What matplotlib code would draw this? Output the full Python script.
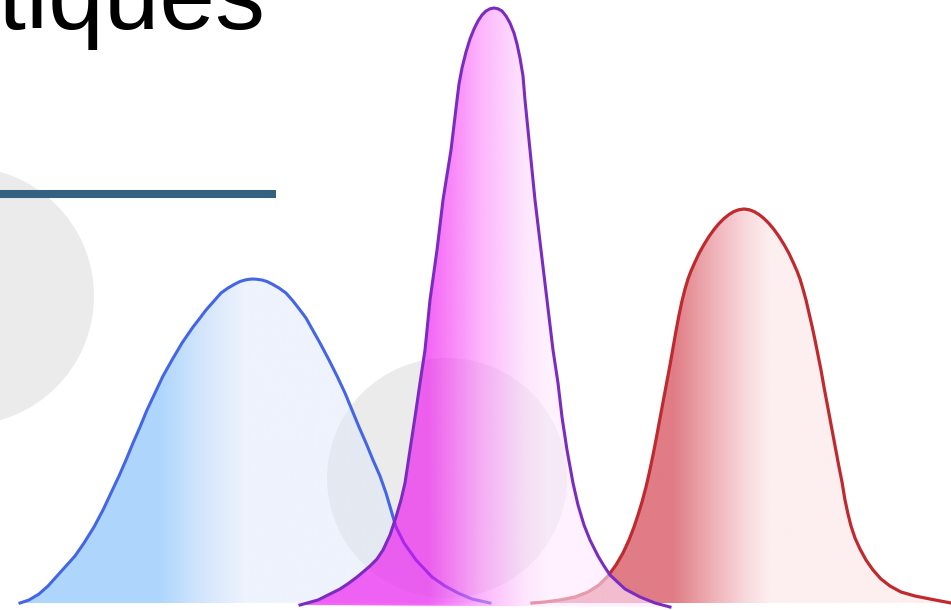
import numpy as np
import matplotlib
matplotlib.use("Agg")
import matplotlib.pyplot as plt
from matplotlib.patches import Polygon, Circle

# ---------------- data (canvas units) ----------------
title_text = "Statistiques"

blue_x = [20, 29, 39, 48, 57, 66, 75, 84, 94, 103, 111, 119, 126, 133, 140, 147, 155,
          163, 172, 182, 193, 200, 206, 214, 221, 228, 235, 240, 245, 249, 253,
          257, 262, 267, 272, 279, 286, 293, 300, 306, 311, 320, 329, 337, 345, 352,
          359, 366, 373, 380, 386, 391, 396, 404, 416, 432, 445, 458, 472, 490]
blue_y = [603, 600, 594, 586, 576, 566, 556, 543, 527, 510, 493, 476, 460, 443, 427, 410, 393,
          376, 360, 343, 327, 318, 310, 301, 293, 288, 284, 281.5, 280, 279.3, 279,
          279.3, 280, 281.5, 284, 288, 293, 301, 310, 318, 327, 343, 360, 376, 393, 410,
          427, 443, 460, 476, 493, 510, 527, 543, 560, 577, 586, 593, 599, 603]

purple_x = [300, 318, 330, 340, 349, 357, 363, 370, 377, 383, 390, 396, 401, 405, 410,
            415, 420, 425, 430, 437, 443, 451, 457, 459, 462, 466, 470, 474, 478, 482,
            486, 490, 494,
            498, 502, 506, 510, 514, 517, 520, 523, 525, 530, 535, 541, 547, 553, 558,
            562, 567, 573, 578, 584, 590, 598, 604, 610, 625, 640, 655, 670]
purple_y = [605, 600, 594, 589, 583, 577, 572, 566, 559, 550, 535, 517, 500, 483, 450,
            417, 383, 350, 300, 250, 200, 150, 100, 84, 68, 52, 39, 29, 21, 15,
            11, 8.8, 8,
            8.8, 11, 16, 23, 33, 44, 58, 76, 100, 150, 200, 250, 300, 350, 383,
            417, 450, 483, 505, 525, 540, 556, 566, 575, 589, 597, 603, 607]

red_x = [532, 545, 560, 575, 588, 599, 608, 616, 623, 629, 634, 638, 642, 646, 649, 652,
         655, 658, 661, 664, 667, 670, 673, 676, 679, 682, 685, 688, 691, 695, 699, 704,
         709, 714, 719, 724, 729, 734, 739, 744,
         749, 754, 759, 764, 769, 774, 779, 784, 789, 793, 797, 800, 803, 806, 809, 812,
         815, 818, 821, 824, 827, 830, 833, 836, 839, 842, 845, 848, 851, 855, 860, 866,
         873, 881, 890, 901, 915, 930, 951]
red_y = [603, 602, 600, 597, 592, 585, 576, 565, 553, 540, 527, 515, 502, 487, 474, 460,
         445, 429, 413, 397, 381, 365, 348, 331, 315, 301, 289, 279, 271, 262, 253.5, 244.5,
         236.5, 229.5, 223.5, 218.5, 214.5, 211.5, 209.7, 209,
         209.7, 211.5, 214.5, 218.5, 223.5, 229.5, 236.5, 244.5, 253.5, 262, 271, 279, 289,
         300, 313, 326, 340, 355, 370, 387, 403, 419, 435, 451, 467, 482, 500, 514, 526,
         538, 549, 560, 570, 579, 586, 592, 596, 599, 603]

# ---------------- figure ----------------
W, H = 951, 610
fig = plt.figure(figsize=(W / 100, H / 100), dpi=100)
ax = fig.add_axes([0, 0, 1, 1])
ax.set_xlim(0, W)
ax.set_ylim(H, 0)
ax.axis("off")


def hex2rgb(h):
    h = h.lstrip("#")
    return [int(h[i:i + 2], 16) / 255 for i in (0, 2, 4)]


def gradient_fill(xs, ys, stops, alpha, z):
    xs = np.asarray(xs, float)
    ys = np.asarray(ys, float)
    poly = Polygon(np.column_stack([xs, ys]), closed=True, facecolor="none",
                   edgecolor="none", transform=ax.transData)
    ax.add_patch(poly)
    x0, x1 = xs.min(), xs.max()
    n = 600
    gx = np.linspace(x0, x1, n)
    sx = [s[0] for s in stops]
    cols = np.array([hex2rgb(s[1]) for s in stops])
    img = np.zeros((1, n, 4))
    for c in range(3):
        img[0, :, c] = np.interp(gx, sx, cols[:, c])
    img[0, :, 3] = alpha
    im = ax.imshow(img, extent=(x0, x1, ys.max() + 1, ys.min() - 1), aspect="auto",
                   interpolation="bilinear", zorder=z)
    im.set_clip_path(poly)


# grey decorative circles
ax.add_patch(Circle((-35, 296), 129, facecolor="#ebebeb", edgecolor="none", zorder=0.5))
ax.add_patch(Circle((447, 478), 120, facecolor="#ebebeb", edgecolor="none", zorder=0.5))

# blue curve
gradient_fill(blue_x, blue_y,
              [(20, "#5dadfb"), (160, "#5dadfb"), (200, "#a6cbf9"), (245, "#dde7fb"),
               (490, "#dde7fb")], 0.5, 2)
ax.plot(blue_x, blue_y, color="#4466e6", lw=2.2, solid_joinstyle="round", zorder=3)

# red curve
gradient_fill(red_x, red_y,
              [(532, "#e07c85"), (673, "#e07c85"), (690, "#e6929a"), (715, "#f0b4ba"),
               (745, "#f8d8dc"), (770, "#fdeff0"), (951, "#fdeff0")], 1.0, 2)
ax.plot(red_x, red_y, color="#be2a2e", lw=2.3, solid_joinstyle="round", zorder=3)

# purple curve
gradient_fill(purple_x, purple_y,
              [(300, "#ee00ee"), (428, "#ee00ee"), (457, "#f746f7"), (480, "#fc82fc"),
               (505, "#fcb1fc"), (525, "#fcd5fc"), (550, "#ffe9ff"), (670, "#ffe9ff")],
              0.6, 4)
ax.plot(purple_x, purple_y, color="#7a2cc0", lw=2.2, solid_joinstyle="round", zorder=5)

# dark rule under the title
ax.plot([0, 276], [194, 194], color="#33617f", lw=5.8, solid_capstyle="butt", zorder=6)

# title (partially cut at the left/top, as in the reference)
ax.text(265, 29, title_text, ha="right", va="baseline", fontsize=72,
        family=["Liberation Sans", "DejaVu Sans"], color="black", zorder=7)

fig.savefig("out.png", dpi=100)
